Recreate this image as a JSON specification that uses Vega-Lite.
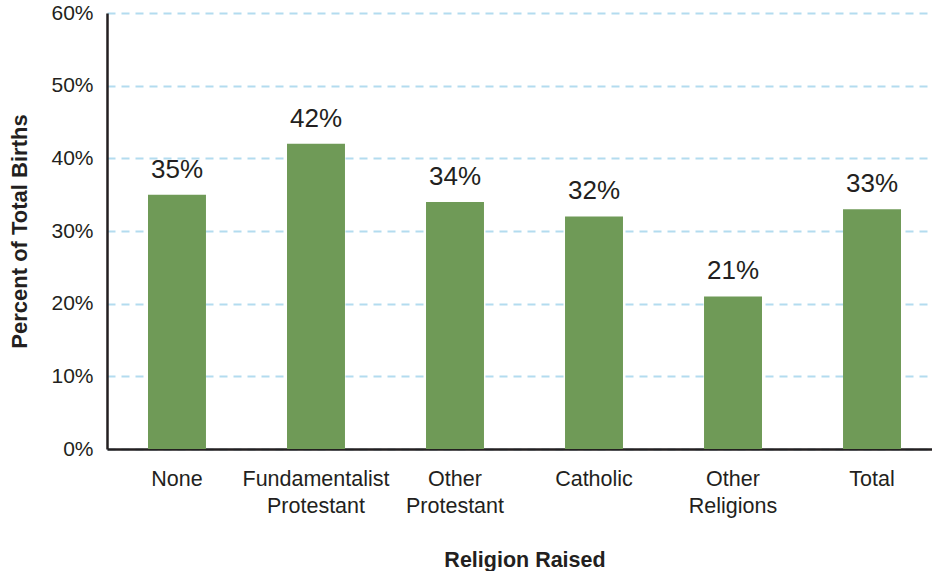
{
  "$schema": "https://vega.github.io/schema/vega-lite/v6.json",
  "width": 835,
  "height": 436,
  "autosize": {"type": "none"},
  "padding": {"left": 107, "top": 13, "right": 0, "bottom": 122},
  "background": "white",
  "config": {
    "view": {"stroke": null},
    "font": "Liberation Sans",
    "text": {"font": "Liberation Sans"}
  },
  "data": {
    "values": [
      {"religion": "None", "pct": 35},
      {"religion": "Fundamentalist Protestant", "pct": 42},
      {"religion": "Other Protestant", "pct": 34},
      {"religion": "Catholic", "pct": 32},
      {"religion": "Other Religions", "pct": 21},
      {"religion": "Total", "pct": 33}
    ]
  },
  "encoding": {
    "x": {
      "field": "religion",
      "type": "nominal",
      "sort": null,
      "scale": {"paddingInner": 0.583, "paddingOuter": 0.295},
      "axis": {
        "title": "Religion Raised",
        "titleFont": "Liberation Sans",
        "titleFontSize": 21.5,
        "titleFontWeight": "bold",
        "titleColor": "#231f20",
        "titlePadding": 33,
        "labelAngle": 0,
        "labelFont": "Liberation Sans",
        "labelFontSize": 21.5,
        "labelColor": "#231f20",
        "labelLineHeight": 27,
        "labelPadding": 19,
        "labelExpr": "split(datum.label, ' ')",
        "ticks": false,
        "domainColor": "#231f20",
        "domainWidth": 2.5
      }
    },
    "y": {
      "field": "pct",
      "type": "quantitative",
      "scale": {"domain": [0, 60]},
      "axis": {
        "title": "Percent of Total Births",
        "titleFont": "Liberation Sans",
        "titleFontSize": 22,
        "titleFontWeight": "bold",
        "titleColor": "#231f20",
        "titlePadding": 19,
        "values": [0, 10, 20, 30, 40, 50, 60],
        "labelExpr": "datum.value + '%'",
        "labelFont": "Liberation Sans",
        "labelFontSize": 21,
        "labelColor": "#231f20",
        "labelPadding": 14,
        "ticks": false,
        "domainColor": "#231f20",
        "domainWidth": 2.5,
        "grid": true,
        "gridColor": "#b3dcef",
        "gridDash": [8, 6],
        "gridWidth": 2
      }
    }
  },
  "layer": [
    {"mark": {"type": "bar", "color": "#6f9a57"}},
    {
      "mark": {"type": "text", "dy": -25, "fontSize": 26, "color": "#231f20", "font": "Liberation Sans", "text": {"expr": "datum.pct + '%'"}}
    }
  ]
}
